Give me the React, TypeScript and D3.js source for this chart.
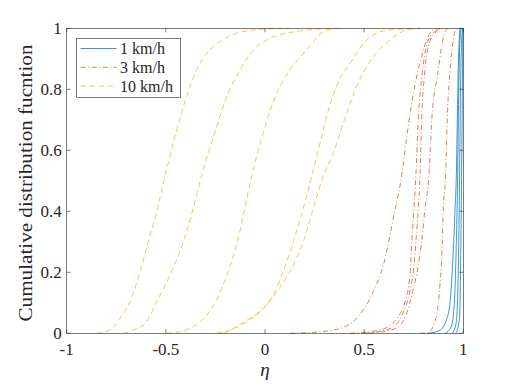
import React from "react";
import * as d3 from "d3";

// [eta, F] samples
const blue1 = [[0.822, 0], [0.882, 0.01], [0.913, 0.04], [0.933, 0.1], [0.948, 0.25], [0.958, 0.4], [0.966, 0.55], [0.971, 0.75], [0.976, 0.9], [0.983, 1]];
const blue2 = [[0.908, 0], [0.938, 0.02], [0.953, 0.08], [0.963, 0.25], [0.971, 0.5], [0.976, 0.75], [0.981, 0.92], [0.988, 1]];
const blue3 = [[0.943, 0], [0.963, 0.03], [0.973, 0.15], [0.981, 0.5], [0.986, 0.8], [0.991, 0.95], [0.996, 1]];
const blue4 = [[0.963, 0], [0.981, 0.05], [0.988, 0.3], [0.994, 0.7], [0.998, 1]];

const orange1 = [[0.126, 0], [0.277, 0.005], [0.378, 0.016], [0.462, 0.049], [0.546, 0.136], [0.597, 0.224], [0.647, 0.377], [0.689, 0.516], [0.715, 0.645], [0.74, 0.754], [0.765, 0.842], [0.79, 0.907], [0.815, 0.962], [0.849, 0.995], [0.882, 1]];
const orange2 = [[0.429, 0], [0.58, 0.011], [0.664, 0.049], [0.706, 0.104], [0.731, 0.191], [0.74, 0.3], [0.751, 0.41], [0.761, 0.52], [0.773, 0.7], [0.795, 0.863], [0.817, 0.95], [0.857, 0.99], [0.882, 1]];
const orange3 = [[0.504, 0], [0.63, 0.015], [0.691, 0.06], [0.731, 0.14], [0.751, 0.22], [0.761, 0.3], [0.773, 0.41], [0.782, 0.52], [0.79, 0.7], [0.807, 0.863], [0.827, 0.95], [0.866, 0.99], [0.893, 1]];
const orange4 = [[0.529, 0], [0.656, 0.015], [0.711, 0.06], [0.746, 0.14], [0.772, 0.22], [0.79, 0.3], [0.807, 0.41], [0.827, 0.52], [0.841, 0.7], [0.874, 0.863], [0.893, 0.95], [0.908, 0.99], [0.923, 1]];
const orange5 = [[0.782, 0], [0.824, 0.003], [0.866, 0.06], [0.882, 0.158], [0.891, 0.246], [0.899, 0.41], [0.911, 0.52], [0.919, 0.7], [0.933, 0.863], [0.947, 0.95], [0.958, 0.99], [0.973, 1]];

const yellow1 = [[-0.849, 0], [-0.782, 0.011], [-0.731, 0.049], [-0.681, 0.104], [-0.63, 0.202], [-0.589, 0.3], [-0.546, 0.399], [-0.504, 0.516], [-0.445, 0.667], [-0.395, 0.776], [-0.344, 0.863], [-0.294, 0.918], [-0.227, 0.956], [-0.143, 0.984], [-0.009, 0.997], [0.126, 1]];
const yellow2 = [[-0.715, 0], [-0.664, 0.011], [-0.597, 0.038], [-0.546, 0.104], [-0.479, 0.191], [-0.429, 0.268], [-0.362, 0.41], [-0.319, 0.519], [-0.277, 0.61], [-0.244, 0.677], [-0.193, 0.776], [-0.126, 0.863], [-0.059, 0.929], [0.025, 0.967], [0.143, 0.988], [0.261, 0.997], [0.353, 1]];
const yellow3 = [[-0.496, 0], [-0.445, 0.003], [-0.378, 0.016], [-0.294, 0.06], [-0.244, 0.11], [-0.19, 0.195], [-0.143, 0.29], [-0.109, 0.388], [-0.067, 0.516], [-0.009, 0.656], [0.059, 0.787], [0.126, 0.863], [0.21, 0.929], [0.294, 0.988], [0.378, 1]];
const yellow4 = [[-0.244, 0], [-0.176, 0.011], [-0.092, 0.038], [-0.025, 0.071], [0.042, 0.126], [0.092, 0.202], [0.143, 0.3], [0.193, 0.41], [0.236, 0.516], [0.277, 0.623], [0.328, 0.75], [0.378, 0.835], [0.429, 0.885], [0.513, 0.962], [0.58, 0.989], [0.664, 0.997], [0.731, 1]];
const yellow5 = [[-0.21, 0], [-0.143, 0.022], [-0.076, 0.049], [-0.009, 0.082], [0.059, 0.136], [0.126, 0.202], [0.193, 0.3], [0.244, 0.41], [0.294, 0.516], [0.344, 0.59], [0.395, 0.689], [0.462, 0.809], [0.546, 0.907], [0.63, 0.962], [0.715, 0.995], [0.782, 1]];

const xTicks = [-1, -0.5, 0, 0.5, 1];
const yTicks = [0, 0.2, 0.4, 0.6, 0.8, 1];
const legendLabels = ["1 km/h", "3 km/h", "10 km/h"];

const colors = ["#0072BD", "#D95319", "#EDB120"];
const dashes = ["none", "5,2.5,1,2.5", "5.5,3.5"];

const groups = [
  [blue1, blue2, blue3, blue4],
  [orange1, orange2, orange3, orange4, orange5],
  [yellow1, yellow2, yellow3, yellow4, yellow5],
];

const left = 66.7, right = 463.3, top = 28.3, bottom = 333.3;
const axisColor = "#262626";
const font = "Liberation Serif";
const tl = 4;

export default function App() {
  const x = d3.scaleLinear().domain([-1, 1]).range([left, right]);
  const y = d3.scaleLinear().domain([0, 1]).range([bottom, top]);
  const line = d3.line<number[]>()
    .x(d => x(d[0]))
    .y(d => y(d[1]))
    .curve(d3.curveMonotoneX);

  return (
    <svg width={512} height={384} style={{ position: "absolute", left: 0, top: 0, background: "#fff" }}>
      {groups.map((curves, gi) =>
        curves.map((c, ci) => (
          <path key={gi + "-" + ci} d={line(c as number[][]) || ""} fill="none"
            stroke={colors[gi]} strokeWidth={0.75} strokeDasharray={dashes[gi]} />
        ))
      )}

      <rect x={left} y={top} width={right - left} height={bottom - top}
        fill="none" stroke={axisColor} strokeWidth={0.6} />

      <g style={{ fontFamily: font, fontSize: "17px" }} fill={axisColor}>
        {xTicks.map(t => (
          <g key={"x" + t}>
            <line x1={x(t)} x2={x(t)} y1={bottom} y2={bottom - tl} stroke={axisColor} strokeWidth={0.6} />
            <line x1={x(t)} x2={x(t)} y1={top} y2={top + tl} stroke={axisColor} strokeWidth={0.6} />
            <text x={x(t)} y={bottom + 22} textAnchor="middle">{String(t)}</text>
          </g>
        ))}
        {yTicks.map(t => (
          <g key={"y" + t}>
            <line x1={left} x2={left + tl} y1={y(t)} y2={y(t)} stroke={axisColor} strokeWidth={0.6} />
            <line x1={right} x2={right - tl} y1={y(t)} y2={y(t)} stroke={axisColor} strokeWidth={0.6} />
            <text x={left - 5} y={y(t) + 5.5} textAnchor="end">{String(t)}</text>
          </g>
        ))}
      </g>

      <text x={x(0)} y={376} textAnchor="middle" fill={axisColor}
        style={{ fontFamily: font, fontSize: "19px", fontStyle: "italic" }}>η</text>
      <text transform="translate(32,183) rotate(-90)" textAnchor="middle" fill={axisColor}
        textLength={277} lengthAdjust="spacingAndGlyphs"
        style={{ fontFamily: font, fontSize: "19px" }}>Cumulative distribution fucntion</text>

      <g>
        <rect x={76.7} y={38.3} width={104} height={59} fill="#fff" stroke={axisColor} strokeWidth={0.6} />
        {legendLabels.map((lab, i) => {
          const cy = 48.5 + i * 18.8;
          return (
            <g key={lab}>
              <line x1={80.7} x2={116.7} y1={cy} y2={cy} stroke={colors[i]} strokeWidth={0.75} strokeDasharray={dashes[i]} />
              <text x={120} y={cy + 5.5} fill={axisColor} style={{ fontFamily: font, fontSize: "16px" }}>{lab}</text>
            </g>
          );
        })}
      </g>
    </svg>
  );
}
